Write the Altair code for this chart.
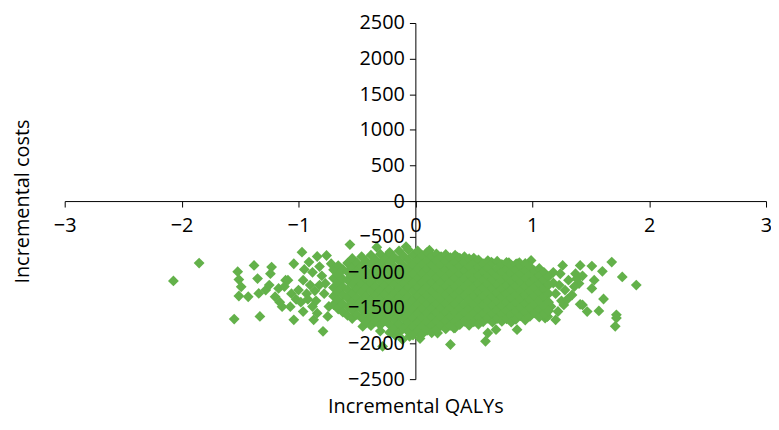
import altair as alt
import pandas as pd

# Axis tick values
x_ticks = [-3, -2, -1, 0, 1, 2, 3]
y_ticks = [-2500, -2000, -1500, -1000, -500, 0, 500, 1000, 1500, 2000, 2500]

# Outlying points on the left (incremental QALYs, incremental costs)
left_qaly = [-2.07, -1.85, -1.55, -1.33, -1.38, -1.52, -1.51, -1.35, -1.49, -1.51,
             -1.43, -1.34, -1.23, -1.24, -1.28, -1.20, -1.14, -1.11, -1.17, -1.09,
             -0.96, -0.82, -0.77, -1.07, -1.04, -0.87, -0.79, -0.96, -0.84, -0.97,
             -0.84, -1.04, -0.91, -0.76, -1.00, -0.93, -0.88, -0.85, -0.80, -0.78,
             -0.74, -0.90, -1.02, -0.95, -0.72, -0.82, -0.75, -0.88, -0.98, -1.06,
             -1.12, -0.86, -0.92, -1.16, -1.25]
left_cost = [-1121, -871, -1657, -1620, -903, -991, -1102, -1088, -1204, -1333,
             -1343, -1296, -926, -1019, -1250, -1343, -1482, -1111, -1227, -1111,
             -1111, -1180, -1157, -1482, -1667, -1667, -1829, -1551, -1574, -718,
             -778, -880, -857, -764, -1250, -1300, -1000, -1400, -1050, -1300,
             -1480, -1180, -1380, -960, -880, -920, -1620, -1480, -1420, -1300,
             -1200, -1260, -1380, -1420, -1180]

# Outlying points on the right
right_qaly = [1.26, 1.41, 1.51, 1.68, 1.60, 1.77, 1.89, 1.61, 1.57, 1.72,
              1.71, 1.72, 1.43, 1.47, 1.37, 1.40, 1.53, 1.51, 1.34, 1.27,
              1.20, 1.11, 1.31, 1.23, 1.18, 1.20, 1.25, 1.22, 1.16, 1.28,
              1.18, 1.13, 1.38, 1.43, 1.36, 1.41, 1.30, 1.24]
right_cost = [-903, -903, -912, -857, -986, -1065, -1180, -1375, -1542, -1597,
              -1759, -1643, -1458, -1551, -1019, -1157, -1111, -1227, -1319, -1458,
              -1667, -1643, -1111, -1180, -1000, -1300, -1400, -1550, -1480, -1250,
              -1150, -1620, -1090, -1050, -1200, -1450, -1380, -1020]

# Points on the top and bottom edges of the main cloud
edge_qaly = [-0.56, -0.33, -0.25, 0.09, 0.22, 0.36, 0.65, 0.80, 0.89, 0.99,
             0.87, 0.30, 0.19, 0.33, 0.60, 0.62, 0.69, 0.48, 0.79, 0.87,
             1.13, -0.28, -0.11, -0.05, 0.04, -0.17, -0.45, -0.08, 0.12]
edge_cost = [-611, -648, -787, -740, -787, -787, -857, -866, -866, -833,
             -880, -2014, -1852, -1782, -1968, -1852, -1806, -1643, -1620, -1806,
             -1620, -2040, -1944, -1900, -1930, -1890, -1760, -640, -690]

# Dense core of the cloud: columns of incremental QALYs with their costs
core_cols = [
    (-0.70, [-965, -1085, -1215, -1335, -1455]),
    (-0.66, [-905, -1030, -1150, -1275, -1390, -1515]),
    (-0.62, [-960, -1095, -1205, -1320, -1445, -1560]),
    (-0.58, [-870, -995, -1110, -1245, -1360, -1485, -1605]),
    (-0.54, [-805, -930, -1055, -1170, -1295, -1410, -1530, -1650]),
    (-0.50, [-865, -985, -1100, -1230, -1355, -1470, -1595]),
    (-0.46, [-780, -915, -1040, -1165, -1280, -1405, -1520, -1640]),
    (-0.42, [-845, -970, -1095, -1210, -1335, -1460, -1585, -1700]),
    (-0.38, [-760, -890, -1020, -1145, -1265, -1390, -1510, -1635, -1750]),
    (-0.34, [-825, -950, -1075, -1200, -1320, -1445, -1570, -1690]),
    (-0.30, [-745, -880, -1005, -1130, -1255, -1375, -1500, -1625, -1740, -1825]),
    (-0.26, [-810, -940, -1065, -1185, -1305, -1430, -1555, -1680]),
    (-0.22, [-720, -860, -990, -1115, -1240, -1365, -1485, -1610, -1735, -1845]),
    (-0.18, [-790, -925, -1050, -1170, -1295, -1420, -1545, -1665, -1790]),
    (-0.14, [-700, -840, -975, -1100, -1225, -1350, -1475, -1600, -1725, -1850]),
    (-0.10, [-770, -905, -1030, -1155, -1280, -1405, -1530, -1655, -1780]),
    (-0.06, [-685, -830, -960, -1085, -1210, -1335, -1460, -1585, -1710, -1835]),
    (-0.02, [-760, -895, -1020, -1145, -1265, -1390, -1515, -1640, -1765, -1880]),
    (0.02, [-700, -830, -955, -1080, -1205, -1330, -1450, -1575, -1700, -1825]),
    (0.06, [-765, -890, -1015, -1140, -1265, -1385, -1510, -1635, -1760, -1865]),
    (0.10, [-720, -835, -955, -1075, -1200, -1325, -1445, -1570, -1695, -1815]),
    (0.14, [-770, -895, -1015, -1135, -1260, -1385, -1505, -1630, -1755, -1850]),
    (0.18, [-740, -835, -955, -1075, -1195, -1320, -1445, -1565, -1690, -1805]),
    (0.22, [-780, -895, -1015, -1135, -1255, -1380, -1500, -1625, -1745]),
    (0.26, [-750, -845, -960, -1075, -1195, -1315, -1440, -1560, -1685, -1795]),
    (0.30, [-795, -905, -1020, -1135, -1255, -1375, -1500, -1620, -1745]),
    (0.34, [-760, -855, -965, -1080, -1200, -1320, -1445, -1565, -1690, -1780]),
    (0.38, [-800, -910, -1025, -1140, -1260, -1380, -1505, -1620, -1735]),
    (0.42, [-780, -865, -975, -1085, -1205, -1325, -1450, -1570, -1690]),
    (0.46, [-810, -920, -1030, -1145, -1265, -1385, -1510, -1630, -1745]),
    (0.50, [-800, -875, -985, -1095, -1210, -1330, -1455, -1575, -1695]),
    (0.54, [-825, -930, -1040, -1155, -1270, -1390, -1515, -1635, -1730]),
    (0.58, [-880, -990, -1105, -1220, -1340, -1460, -1580, -1695]),
    (0.62, [-835, -940, -1050, -1165, -1285, -1405, -1525, -1645]),
    (0.66, [-870, -995, -1105, -1225, -1345, -1465, -1585, -1700]),
    (0.70, [-845, -945, -1055, -1170, -1290, -1410, -1530, -1650]),
    (0.74, [-890, -1000, -1115, -1230, -1350, -1470, -1590, -1690]),
    (0.78, [-860, -955, -1065, -1180, -1300, -1420, -1540, -1655]),
    (0.82, [-900, -1010, -1125, -1245, -1365, -1485, -1600, -1700]),
    (0.86, [-885, -965, -1075, -1190, -1310, -1430, -1550, -1660]),
    (0.90, [-910, -1020, -1135, -1255, -1375, -1495, -1610]),
    (0.94, [-875, -975, -1085, -1200, -1320, -1440, -1560, -1670]),
    (0.98, [-920, -1030, -1145, -1265, -1385, -1505, -1620]),
    (1.02, [-980, -1095, -1210, -1330, -1450, -1570]),
    (1.06, [-945, -1045, -1160, -1280, -1400, -1520, -1630]),
    (1.10, [-1000, -1110, -1230, -1350, -1470, -1590]),
    (1.14, [-1060, -1180, -1300, -1420, -1540]),
]

qaly = left_qaly + right_qaly + edge_qaly
cost = left_cost + right_cost + edge_cost
for cx, ys in core_cols:
    for cy in ys:
        qaly.append(cx)
        cost.append(cy)

df = pd.DataFrame({"qaly": qaly, "cost": cost})

FONT = "Open Sans"
GREEN = "#63B14A"
W, H = 705, 358

x_scale = alt.Scale(domain=[-3, 3], nice=False, zero=False)
y_scale = alt.Scale(domain=[-2500, 2500], nice=False, zero=False)

# Layer 1: the points, with axis lines and ticks drawn beneath them
points = alt.Chart(df).mark_point(
    shape="diamond", filled=True, size=118, color=GREEN, opacity=1
).encode(
    x=alt.X("qaly:Q", scale=x_scale, axis=alt.Axis(
        orient="bottom", offset=-H / 2, values=x_ticks, labels=False, title=None,
        domainColor="black", tickColor="black", tickSize=6, grid=False, zindex=0)),
    y=alt.Y("cost:Q", scale=y_scale, axis=alt.Axis(
        orient="left", offset=-W / 2, values=y_ticks, labels=False, title=None,
        domainColor="black", tickColor="black", tickSize=6, grid=False, zindex=0)),
)

# Layer 2: tick labels and titles drawn on top of the points
labels = alt.Chart(df).mark_point(opacity=0).encode(
    x=alt.X("qaly:Q", scale=x_scale, axis=alt.Axis(
        orient="bottom", offset=-H / 2, values=x_ticks, format="d",
        domain=False, ticks=False,
        labelPadding=15, labelFlush=False, labelOverlap=False,
        labelFont=FONT, labelFontSize=20, labelColor="black",
        title="Incremental QALYs", titleFont=FONT, titleFontSize=20,
        titleFontWeight="normal", titleColor="black", titleBaseline="alphabetic",
        titleY=213, grid=False, zindex=1)),
    y=alt.Y("cost:Q", scale=y_scale, axis=alt.Axis(
        orient="left", offset=-W / 2, values=y_ticks, format="d",
        domain=False, ticks=False,
        labelPadding=11, labelFlush=False, labelOverlap=False,
        labelFont=FONT, labelFontSize=20, labelColor="black",
        title="Incremental costs", titleFont=FONT, titleFontSize=20,
        titleFontWeight="normal", titleColor="black", titleBaseline="alphabetic",
        titleAngle=270, titleX=-389, titleY=H / 2, titleAlign="center",
        grid=False, zindex=1)),
)

chart = alt.layer(points, labels).resolve_axis(x="independent", y="independent").properties(
    width=W,
    height=H,
    autosize=alt.AutoSizeParams(type="none"),
    padding={"left": 57, "top": 14, "right": 5, "bottom": 42},
).configure_view(stroke=None)

chart.save("out.html", embed_options={"renderer": "svg", "actions": False})
